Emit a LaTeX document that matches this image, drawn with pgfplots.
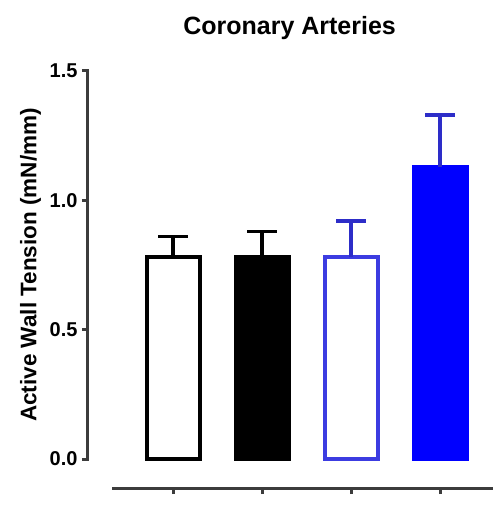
\documentclass[border=0pt]{standalone}
\usepackage{pgfplots}
\pgfplotsset{compat=1.18}
\usepackage{fontspec}
\setmainfont{Liberation Sans}
\usetikzlibrary{calc}
\definecolor{bblue}{RGB}{0,0,255}
\definecolor{eblue}{RGB}{45,45,200}
\definecolor{oblue}{RGB}{60,60,225}
\definecolor{axgray}{RGB}{60,60,60}
\begin{document}
\begin{tikzpicture}
\begin{axis}[
  scale only axis,
  width=405pt, height=417pt,
  xmin=-0.955, xmax=3.595,
  ymin=-0.112, ymax=1.5,
  clip=false,
  axis line style={draw=none},
  tick align=outside,
  xtick={0,1,2,3}, xticklabels={},
  xtick pos=bottom, ytick pos=left,
  ytick={0,0.5,1,1.5},
  major tick length=6pt,
  every tick/.style={axgray, line width=3pt},
  /pgf/number format/assume math mode=true,
  yticklabel style={font=\bfseries\fontsize{20}{24}\selectfont, xshift=-1pt},
  /pgf/number format/.cd, fixed, fixed zerofill, precision=1, /pgfplots/.cd,
  bar width=53pt, bar shift=0pt,
  error bars/error bar style={line width=3.5pt},
  error bars/error mark options={rotate=90, mark size=15pt, line width=3.5pt},
]
\addplot[ybar, fill=white, draw=black, line width=4pt,
  error bars/.cd, y dir=plus, y explicit, error bar style={black}]
  coordinates {(0,0.78) +- (0,0.08)};
\addplot[ybar, fill=black, draw=black, line width=4pt,
  error bars/.cd, y dir=plus, y explicit, error bar style={black}]
  coordinates {(1,0.78) +- (0,0.10)};
\addplot[ybar, fill=white, draw=oblue, line width=4pt,
  error bars/.cd, y dir=plus, y explicit, error bar style={eblue}]
  coordinates {(2,0.78) +- (0,0.14)};
\addplot[ybar, fill=bblue, draw=bblue, line width=4pt,
  error bars/.cd, y dir=plus, y explicit, error bar style={eblue}]
  coordinates {(3,1.13) +- (0,0.20)};
\draw[axgray, line width=3pt] (axis cs:-0.955,-0.006) -- (axis cs:-0.955,1.506);
\draw[axgray, line width=3pt] (axis cs:-0.68,-0.112) -- (axis cs:3.595,-0.112);
\node[font=\bfseries\fontsize{25}{30}\selectfont, anchor=base] at (axis cs:1.31,1.64) {Coronary Arteries};
\node[font=\bfseries\fontsize{22.5}{27}\selectfont, rotate=90] at (axis cs:-1.60,0.75) {Active Wall Tension (mN/mm)};
\end{axis}
\pgfresetboundingbox
\path[use as bounding box] ($(current axis.south west)+(-88pt,-36pt)$) rectangle ++(493pt,524pt);
\end{tikzpicture}
\end{document}
